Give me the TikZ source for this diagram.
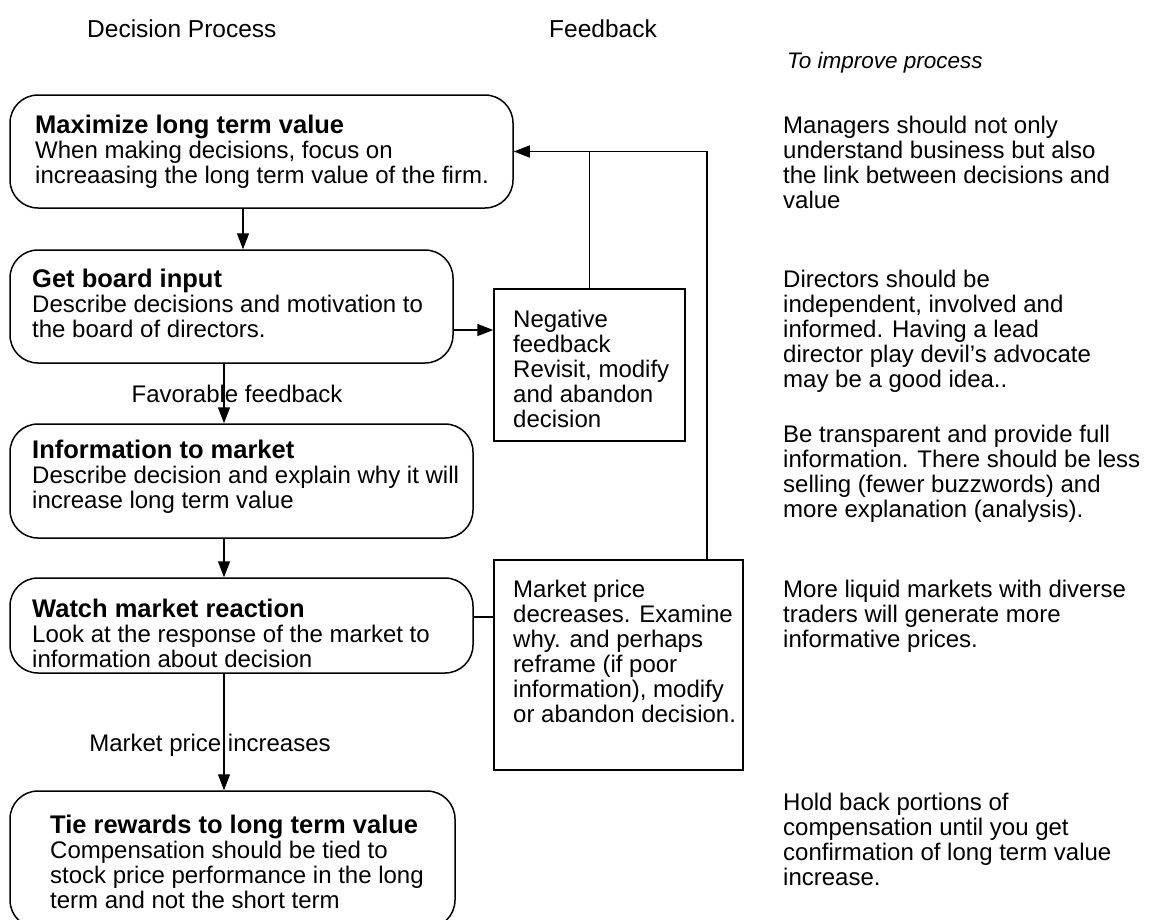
\documentclass[tikz,border=0pt]{standalone}
\usepackage{fontspec}
\setmainfont{Liberation Sans}
\usetikzlibrary{arrows.meta}
\newcommand{\mlines}[1]{\begin{minipage}[t]{600pt}\raggedright #1\end{minipage}}
\newcommand{\ttl}[1]{{\fontsize{25.5}{25}\selectfont\bfseries #1}}
\begin{document}
\begin{tikzpicture}[x=1pt,y=-1pt,
  procbox/.style={draw, line width=1.5pt, rounded corners=28pt, inner sep=0pt},
  fbbox/.style={draw, line width=1.5pt, inner sep=0pt},
  txt/.style={anchor=base west, inner sep=0pt, font=\fontsize{24}{25}\selectfont},
  hdr/.style={anchor=base west, inner sep=0pt, font=\fontsize{24.5}{25}\selectfont},
  lbl/.style={inner sep=0pt, font=\fontsize{24}{25}\selectfont},
  arr/.style={line width=1.5pt, -{Triangle[length=16pt,width=12pt]}},
  conn/.style={line width=1.5pt}
]
\fill[white] (0,0) rectangle (1149,919);
\useasboundingbox (0,0) rectangle (1149,919);

% headers
\node[hdr] (h1) at (87,37) {Decision Process};
\node[hdr] (h2) at (549,37) {Feedback};
\node[hdr, font=\fontsize{22.5}{24}\selectfont\itshape] (h3) at (787,68) {To improve process};

% process boxes
\node[procbox, minimum width=503, minimum height=113] (b1) at (261.5,151.5) {};
\node[procbox, minimum width=443, minimum height=113] (b2) at (231.5,306.5) {};
\node[procbox, minimum width=463, minimum height=114] (b3) at (241.5,481) {};
\node[procbox, minimum width=463, minimum height=95] (b4) at (241.5,625.5) {};
\node[procbox, minimum width=445, minimum height=137] (b5) at (232.5,859.5) {};

\node[txt] (t1) at (35,133) {\mlines{\ttl{Maximize long term value}\\When making decisions, focus on\\increaasing the long term value of the firm.}};
\node[txt] (t2) at (32,287) {\mlines{\ttl{Get board input}\\Describe decisions and motivation to\\the board of directors.}};
\node[txt] (t3) at (32,458) {\mlines{\ttl{Information to market}\\Describe decision and explain why it will\\increase long term value}};
\node[txt] (t4) at (32,617) {\mlines{\ttl{Watch market reaction}\\Look at the response of the market to\\information about decision}};
\node[txt] (t5) at (50,833) {\mlines{\ttl{Tie rewards to long term value}\\Compensation should be tied to\\stock price performance in the long\\term and not the short term}};

% feedback boxes
\node[fbbox, minimum width=191, minimum height=152] (neg) at (589.5,365) {};
\node[fbbox, minimum width=249, minimum height=210] (mkt) at (618.5,665) {};
\node[txt] (tn) at (513,327) {\mlines{Negative\\feedback\\Revisit, modify\\and abandon\\decision}};
\node[txt] (tm) at (513,597) {\mlines{Market price\\decreases. Examine\\why. and perhaps\\reframe (if poor\\information), modify\\or abandon decision.}};

% right column
\node[txt] (r1) at (783,133) {\mlines{Managers should not only\\understand business but also\\the link between decisions and\\value}};
\node[txt] (r2) at (783,287) {\mlines{Directors should be\\independent, involved and\\informed. Having a lead\\director play devil's advocate\\may be a good idea..}};
\node[txt] (r3) at (783,442) {\mlines{Be transparent and provide full\\information. There should be less\\selling (fewer buzzwords) and\\more explanation (analysis).}};
\node[txt] (r4) at (783,597) {\mlines{More liquid markets with diverse\\traders will generate more\\informative prices.}};
\node[txt] (r5) at (783,810) {\mlines{Hold back portions of\\compensation until you get\\confirmation of long term value\\increase.}};

% connectors
\coordinate (xa) at (243,0);
\coordinate (xb) at (224,0);
\coordinate (xm) at (707,0);
\coordinate (yn) at (0,330);
\coordinate (yk) at (0,617);

\draw[arr] (b1.south -| xa) -- (b2.north -| xa);
\draw[arr] (b2.south -| xb) -- node[lbl, xshift=13pt] (l1) {Favorable feedback} (b3.north -| xb);
\draw[arr] (b3.south -| xb) -- (b4.north -| xb);
\draw[arr] (b4.south -| xb) -- node[lbl, pos=0.61, xshift=-14pt] (l2) {Market price increases} (b5.north -| xb);
\draw[arr] (b2.east |- yn) -- (neg.west |- yn);
\draw[arr] (neg.north) |- (b1.east);
\draw[conn] (mkt.north -| xm) |- (neg.north |- b1.east);
\draw[conn] (b4.east |- yk) -- (mkt.west |- yk);
\end{tikzpicture}
\end{document}
